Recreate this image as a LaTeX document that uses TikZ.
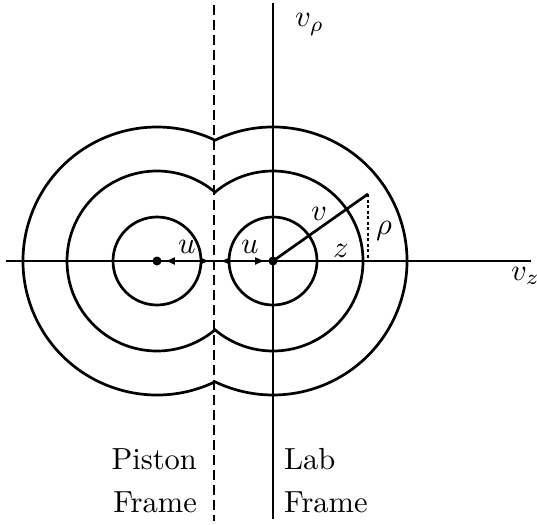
\documentclass[tikz,border=0pt]{standalone}
\usetikzlibrary{arrows.meta}
\begin{document}
\begin{tikzpicture}[x=1pt,y=-1pt,line width=2.7pt,
  lbl/.style={scale=3.05, inner sep=0pt},
  uarrow/.style={{Latex[length=10pt,width=8pt]}-{Latex[length=10pt,width=8pt]}, line width=2.5pt},
  piston/.style={dash pattern=on 10pt off 5pt, line width=2.7pt},
  dotline/.style={dash pattern=on 3pt off 2.5pt, line width=2.7pt},
  cdot/.style={circle, fill=black, inner sep=0pt, minimum size=9pt}]
\useasboundingbox (0,0) rectangle (537,524);
% centres
\coordinate (L) at (157,261);
\coordinate (R) at (273,261);
\coordinate (P) at (215,261);
% axes
\coordinate (ax1) at (6,261);
\coordinate (ax2) at (531,261);
\coordinate (lt) at (273,3);
\coordinate (lb) at (273,519);
\coordinate (pt) at (214,5);
\coordinate (pb) at (214,521);
\draw (ax1) -- (ax2);
\draw (lt) -- (lb);
\draw[piston] (pt) -- (pb);
% small circles
\draw (L) circle[radius=44];
\draw (R) circle[radius=44];
% middle union r=90, alpha=acos(58/90)=49.88
\draw (R) ++(-130.12:90) arc[start angle=-130.12, end angle=130.12, radius=90]
      arc[start angle=49.88, end angle=310.12, radius=90] -- cycle;
% outer union r=134, alpha=acos(58/134)=64.35
\draw (R) ++(-115.65:134) arc[start angle=-115.65, end angle=115.65, radius=134]
      arc[start angle=64.35, end angle=295.65, radius=134] -- cycle;
% centre dots
\node[cdot] (Ld) at (L) {};
\node[cdot] (Rd) at (R) {};
% u arrows
\draw[uarrow, shorten <=2pt, shorten >=5pt] (Ld) -- (P);
\draw[uarrow, shorten <=5pt, shorten >=2pt] (P) -- (Rd);
% v vector and rho
\coordinate (V) at (368,194);
\coordinate (Vz) at (368,261);
\draw (R) -- (V);
\draw[dotline] (V) -- (Vz);
% labels
\node[lbl, anchor=base west] (ul) at (174,253) {$u$};
\node[lbl, anchor=base west] (ur) at (237,253) {$u$};
\node[lbl, anchor=base west] (vl) at (307,220) {$v$};
\node[lbl, anchor=base west] (zl) at (329,257) {$z$};
\node[lbl, anchor=base west] (rl) at (372,234) {$\rho$};
\node[lbl, anchor=base west] (vrho) at (291,27) {$v_\rho$};
\node[lbl, anchor=base west] (vz) at (507,280) {$v_z$};
\node[lbl, anchor=base east] (pist) at (201,469) {Piston};
\node[lbl, anchor=base east] (pfr) at (201,512) {Frame};
\node[lbl, anchor=base west] (lab) at (280,469) {Lab};
\node[lbl, anchor=base west] (lfr) at (280,512) {Frame};
\end{tikzpicture}
\end{document}
